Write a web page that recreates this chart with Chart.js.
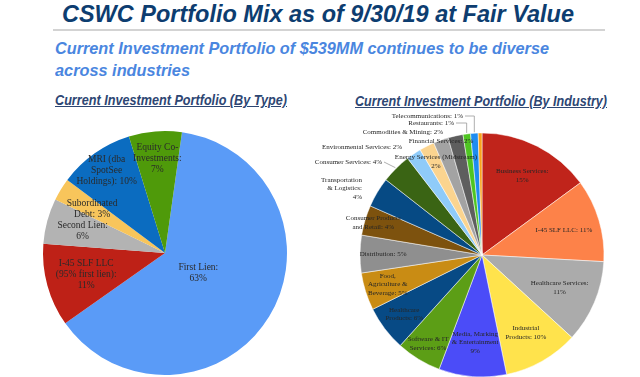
<!DOCTYPE html>
<html>
<head>
<meta charset="utf-8">
<script src="https://cdn.jsdelivr.net/npm/chart.js@4.4.1/dist/chart.umd.min.js"></script>
<style>
  html, body { margin: 0; padding: 0; background: #fff; }
  #page { position: relative; width: 640px; height: 377px; overflow: hidden; background: #fff; }
  .txt { position: absolute; white-space: nowrap; line-height: 1; font-family: "Liberation Sans", Arial, sans-serif;
         font-weight: bold; font-style: italic; transform-origin: 0 0; }
  #rule { position: absolute; left: 53px; top: 29px; width: 552px; height: 2px; background: #d3d3d3; }
  canvas { position: absolute; }
</style>
</head>
<body>
<div id="page">
  <div class="txt" id="title" style="color:#0d3d70">CSWC Portfolio Mix as of 9/30/19 at Fair Value</div>
  <div id="rule"></div>
  <div class="txt" id="sub1" style="color:#4a86df">Current Investment Portfolio of $539MM continues to be diverse</div>
  <div class="txt" id="sub2" style="color:#4a86df">across industries</div>
  <div class="txt" id="typeTitle" style="color:#2d4673;text-decoration:underline">Current Investment Portfolio (By Type)</div>
  <div class="txt" id="indTitle" style="color:#2d4673;text-decoration:underline">Current Investment Portfolio (By Industry)</div>
  <canvas id="typeChart" width="320" height="259" style="left:0;top:118px"></canvas>
  <canvas id="industryChart" width="350" height="277" style="left:290px;top:100px"></canvas>
</div>
<script>
// --- data: portfolio by type ---
const typeNames = ['First Lien', 'I-45 SLF LLC (95% first lien)', 'Second Lien', 'Subordinated Debt',
                   'MRI (dba SpotSee Holdings)', 'Equity Co-Investments'];
const typeValues = [63, 11, 6, 3, 10, 7];
const typeColors = ['#5a9bf7', '#be2117', '#b3b3b3', '#f8c55b', '#0b6cc0', '#4f9a0a'];
const typeLabelLines = [
  ['First Lien:', '63%'],
  ['I-45 SLF LLC', '(95% first lien):', '11%'],
  ['Second Lien:', '6%'],
  ['Subordinated', 'Debt: 3%'],
  ['MRI (dba', 'SpotSee', 'Holdings): 10%'],
  ['Equity Co-', 'Investments:', '7%']
];

// --- data: portfolio by industry ---
const industryNames = ['Business Services', 'I-45 SLF LLC', 'Healthcare Services', 'Industrial Products',
  'Media, Marking & Entertainment', 'Software & IT Services', 'Healthcare Products',
  'Food, Agriculture & Beverage', 'Distribution', 'Consumer Products and Retail',
  'Transportation & Logistics', 'Consumer Services', 'Environmental Services',
  'Energy Services (Midstream)', 'Commodities & Mining', 'Financial Services',
  'Restaurants', 'Telecommunications', 'Other'];
const industryValues = [15, 11, 11, 10, 9, 6, 6, 5, 5, 4, 4, 4, 2, 2, 2, 2, 1, 1, 0.5];
const industryColors = ['#c0241b', '#fd8249', '#ababab', '#ffe34c', '#4b4cf8', '#5c9e16', '#074a85',
  '#c98c14', '#8f8f8f', '#7d520e', '#064a84', '#3a6414', '#8fcbf9', '#fbd48f', '#a3a3a3',
  '#5e5e5e', '#4fc522', '#1e8cf0', '#f9a11b'];
const industryLabelLines = [
  ['Business Services:', '15%'],
  ['I-45 SLF LLC: 11%'],
  ['Healthcare Services:', '11%'],
  ['Industrial', 'Products: 10%'],
  ['Media, Marking', '& Entertainment', '9%'],
  ['Software & IT', 'Services: 6%'],
  ['Healthcare', 'Products: 6%'],
  ['Food,', 'Agriculture &', 'Beverage: 5%'],
  ['Distribution: 5%'],
  ['Consumer Products', 'and Retail: 4%'],
  ['Transportation', '& Logistics:', '4%'],
  ['Consumer Services: 4%'],
  ['Environmental Services: 2%'],
  ['Energy Services (Midstream)', '2%'],
  ['Commodities & Mining: 2%'],
  ['Financial Services: 2%'],
  ['Restaurants: 1%'],
  ['Telecommunications: 1%'],
  []
];

// label placement: a number = fraction of radius along slice middle; object = offset from pie centre
const typeLabelPlace = [0.32, 0.67, 0.7, 0.7, 0.83, 0.78];
const industryLabelPlace = [0.73, 0.7, 0.69, 0.73, 0.72, 0.85, 0.8, 0.81, 0.81, 0.93,
  { dx: -120, dy: -66.5, align: 'right' },
  { dx: -100, dy: -93, align: 'right', leader: 'straight' },
  { dx: -80, dy: -108, align: 'right' },
  { dx: -46, dy: -93.5, align: 'center' },
  { dx: -39, dy: -123, align: 'right' },
  { dx: -41, dy: -114, align: 'center' },
  { dx: -28, dy: -132, align: 'right', leader: 'elbow' },
  { dx: -19, dy: -139, align: 'right', leader: 'elbow' },
  null];

// headings: squeeze each to the width it has on the slide
function placeText(id, x, baseline, width, size) {
  const el = document.getElementById(id);
  el.style.fontSize = size + 'px';
  el.style.left = x + 'px';
  el.style.top = (baseline - 0.847 * size) + 'px';
  const w = el.getBoundingClientRect().width;
  el.style.transform = 'scaleX(' + (width / w) + ')';
}
placeText('title', 62, 22, 512, 24);
placeText('sub1', 55, 54.5, 494, 17);
placeText('sub2', 55, 76, 135, 17);
placeText('typeTitle', 55, 105, 232, 14);
placeText('indTitle', 355, 106, 252, 14);

const sliceLabels = {
  id: 'sliceLabels',
  afterDatasetsDraw(chart, args, opts) {
    const ctx = chart.ctx;
    const arcs = chart.getDatasetMeta(0).data;
    ctx.save();
    ctx.font = opts.font;
    ctx.fillStyle = opts.color;
    ctx.textBaseline = 'middle';
    arcs.forEach((arc, i) => {
      const lines = opts.lines[i];
      const place = opts.place[i];
      if (!lines || !lines.length || place == null) return;
      const p = arc.getProps(['x', 'y', 'startAngle', 'endAngle', 'outerRadius'], true);
      const mid = (p.startAngle + p.endAngle) / 2;
      let tx, ty, align = 'center';
      if (typeof place === 'number') {
        tx = p.x + Math.cos(mid) * p.outerRadius * place;
        ty = p.y + Math.sin(mid) * p.outerRadius * place;
      } else {
        tx = p.x + place.dx;
        ty = p.y + place.dy;
        align = place.align;
      }
      ctx.textAlign = align;
      const top = ty - (lines.length - 1) * opts.lineHeight / 2;
      lines.forEach((ln, k) => ctx.fillText(ln, tx, top + k * opts.lineHeight));
      if (place.leader) {
        const ex = p.x + Math.cos(mid) * (p.outerRadius + 1);
        const ey = p.y + Math.sin(mid) * (p.outerRadius + 1);
        ctx.strokeStyle = '#9a9a9a';
        ctx.lineWidth = 0.8;
        ctx.beginPath();
        ctx.moveTo(tx + 2, ty);
        if (place.leader === 'elbow') {
          ctx.lineTo(ex, ty);
        }
        ctx.lineTo(ex, ey);
        ctx.stroke();
      }
    });
    ctx.restore();
  }
};

function pieChart(canvasId, names, values, colors, rotation, padding, border, labelOpts) {
  return new Chart(document.getElementById(canvasId).getContext('2d'), {
    type: 'pie',
    data: {
      labels: names,
      datasets: [{
        data: values,
        backgroundColor: colors,
        borderColor: '#ffffff',
        borderWidth: border
      }]
    },
    options: {
      responsive: false,
      animation: false,
      rotation: rotation,
      radius: 122,
      layout: { padding: padding },
      plugins: {
        legend: { display: false },
        tooltip: { enabled: false },
        sliceLabels: labelOpts
      }
    },
    plugins: [sliceLabels]
  });
}

pieChart('typeChart', typeNames, typeValues, typeColors, 8,
  { left: 10, right: 0, top: 11, bottom: 0 }, 0,
  { lines: typeLabelLines, place: typeLabelPlace, font: '9.5px "Liberation Serif", "Times New Roman", serif',
    color: '#2a2a2a', lineHeight: 11 });

pieChart('industryChart', industryNames, industryValues, industryColors, 0,
  { left: 34, right: 0, top: 33, bottom: 0 }, 0.5,
  { lines: industryLabelLines, place: industryLabelPlace, font: '7px "Liberation Serif", "Times New Roman", serif',
    color: '#262626', lineHeight: 8.5 });
</script>
</body>
</html>
